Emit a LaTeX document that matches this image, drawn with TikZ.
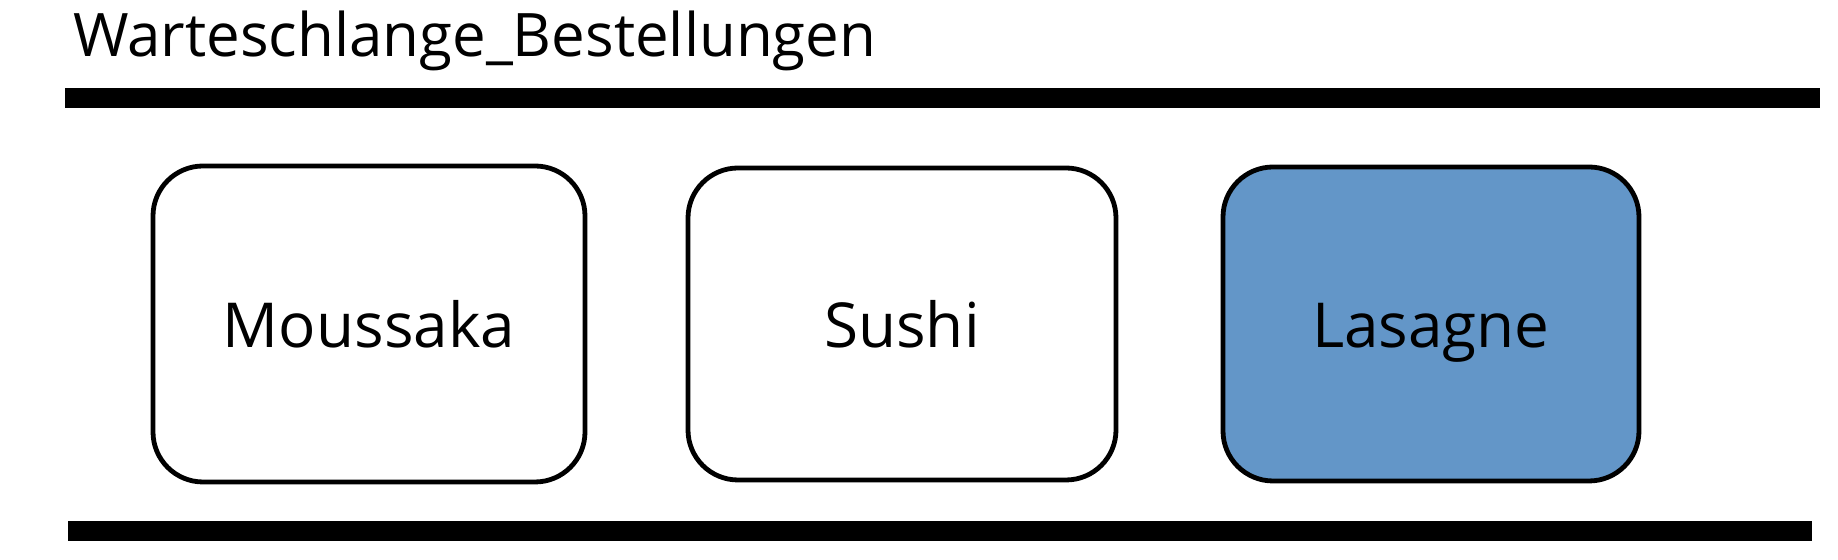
\documentclass[tikz,border=0pt]{standalone}
\usepackage{fontspec}
\setmainfont{Open Sans}
\usepackage{tikz}
\definecolor{dishblue}{RGB}{99,150,200}

\begin{document}
\begin{tikzpicture}[x=0.5pt, y=0.5pt,
    dish/.style = {rectangle, rounded corners=25pt, draw, line width=2.4pt,
                   text height=23.5pt, text depth=0pt,
                   font=\fontsize{31}{37}\selectfont},
    rail/.style = {line width=10pt}]
      \useasboundingbox (0,0) rectangle (1838,560);

      \node [anchor=base west, font=\fontsize{30}{36}\selectfont] (title) at (66,503) {Warteschlange\_Bestellungen};

      % top and bottom of the queue
      \coordinate (topL) at (65,461.5);
      \coordinate (topR) at (1820,461.5);
      \coordinate (botL) at (68,29);
      \coordinate (botR) at (1812,29);
      \draw [rail] (topL) -- (topR);
      \draw [rail] (botL) -- (botR);

      \foreach \x/\w/\h/\dish/\col [count = \i] in {369/216/158/Moussaka/white, 902/214/156/Sushi/white, 1431/208/157/Lasagne/dishblue} {
        \node [dish, fill=\col, minimum width=\w pt, minimum height=\h pt] (q\i) at (\x,236) {\dish};
      }
    \end{tikzpicture}
\end{document}
